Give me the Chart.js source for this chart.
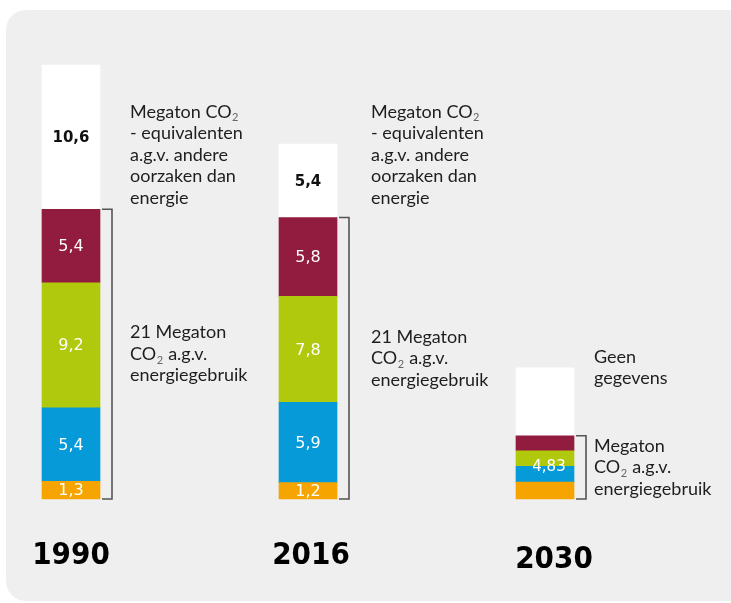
<!DOCTYPE html>
<html>
<head>
<meta charset="utf-8">
<script src="https://cdn.jsdelivr.net/npm/chart.js@4/dist/chart.umd.min.js"></script>
<style>
  body { margin: 0; background: #fff; }
  canvas { display: block; }
</style>
</head>
<body>
<canvas id="myChart" width="731" height="603"></canvas>
<script>
"use strict";

// Megaton CO2 per year, stacked bottom -> top
var years = ['1990', '2016', '2030'];
var orange = [1.3, 1.2, 1.25];
var blue = [5.4, 5.9, 1.15];
var green = [9.2, 7.8, 1.15];
var maroon = [5.4, 5.8, 1.1];
var otherCauses = [10.6, 5.4, 5.0];
// 2030 only has a total for energy use
var energyTotals = [null, null, 4.83];

var otherNotes = [
    ['Megaton CO₂', '- equivalenten', 'a.g.v. andere', 'oorzaken dan', 'energie'],
    ['Megaton CO₂', '- equivalenten', 'a.g.v. andere', 'oorzaken dan', 'energie'],
    ['Geen', 'gegevens']
];
var energyNotes = [
    ['21 Megaton', 'CO₂ a.g.v.', 'energiegebruik'],
    ['21 Megaton', 'CO₂ a.g.v.', 'energiegebruik'],
    ['Megaton', 'CO₂ a.g.v.', 'energiegebruik']
];

var noteGap = [18, 22, 8];
var yearShift = [[0, 0], [3, 0], [9, 4]];
var noteFont = '18px Lato';
var lineH = 21.5;

function fmt(v) {
    return String(v).replace('.', ',');
}

// draws a line of text, with ₂ as a small lowered 2
function drawNote(ctx, text, x, y) {
    var parts = text.split('₂');
    for (var p = 0; p < parts.length; p++) {
        ctx.font = noteFont;
        ctx.fillStyle = '#1e1e1e';
        ctx.fillText(parts[p], x, y);
        x += ctx.measureText(parts[p]).width;
        if (p < parts.length - 1) {
            ctx.font = '11px Lato';
            ctx.fillStyle = '#666';
            ctx.fillText('2', x + 0.5, y + 6);
            x += ctx.measureText('2').width + 1;
        }
    }
}

var panelPlugin = {
    id: 'panel',
    beforeDraw: function(chart) {
        var ctx = chart.ctx;
        ctx.save();
        ctx.fillStyle = '#efefef';
        ctx.beginPath();
        ctx.roundRect(6, 10, 760, 591, 20);
        ctx.fill();
        ctx.restore();
    }
};

var labelPlugin = {
    id: 'labels',
    afterDatasetsDraw: function(chart) {
        var ctx = chart.ctx;
        var area = chart.chartArea;
        var yScale = chart.scales.y;
        ctx.save();
        ctx.textBaseline = 'middle';

        // values inside the segments
        ctx.textAlign = 'center';
        chart.data.datasets.forEach(function(ds, d) {
            chart.getDatasetMeta(d).data.forEach(function(bar, i) {
                if (energyTotals[i] !== null) return;
                var top = Math.min(bar.y, bar.base);
                var h = Math.abs(bar.base - bar.y);
                ctx.save();
                ctx.beginPath();
                ctx.rect(bar.x - bar.width / 2, top, bar.width, h);
                ctx.clip();
                if (d === 4) {
                    ctx.font = 'bold 15px "DejaVu Sans"';
                    ctx.fillStyle = '#111';
                } else {
                    ctx.font = '16px "DejaVu Sans"';
                    ctx.fillStyle = '#fff';
                }
                ctx.fillText(fmt(ds.data[i]), bar.x, top + h / 2 + 1);
                ctx.restore();
            });
        });

        var bottoms = chart.getDatasetMeta(0).data;
        var tops = chart.getDatasetMeta(3).data;
        var whites = chart.getDatasetMeta(4).data;

        for (var i = 0; i < years.length; i++) {
            var bar = bottoms[i];
            var yTop = tops[i].y;
            var yBot = bar.base;
            var x0 = bar.x + bar.width / 2 + 2;
            var x1 = x0 + 10;

            if (energyTotals[i] !== null) {
                ctx.textAlign = 'center';
                ctx.font = '15px "DejaVu Sans"';
                ctx.fillStyle = '#fff';
                ctx.fillText(fmt(energyTotals[i]), bar.x + 4, (yTop + yBot) / 2);
            }

            // bracket round the energy part
            ctx.strokeStyle = '#555';
            ctx.lineWidth = 1.6;
            ctx.beginPath();
            ctx.moveTo(x0, yTop);
            ctx.lineTo(x1, yTop);
            ctx.lineTo(x1, yBot);
            ctx.lineTo(x0, yBot);
            ctx.stroke();

            ctx.textAlign = 'left';
            var tx = x1 + noteGap[i];
            var lines = energyNotes[i];
            var cy = (yTop + yBot) / 2 - (lines.length - 1) * lineH / 2;
            for (var k = 0; k < lines.length; k++) {
                drawNote(ctx, lines[k], tx, cy + k * lineH);
            }

            lines = otherNotes[i];
            var mid = Math.max(yScale.getPixelForValue(25.3), whites[i].y);
            cy = mid - (lines.length - 1) * lineH / 2;
            for (k = 0; k < lines.length; k++) {
                drawNote(ctx, lines[k], tx, cy + k * lineH);
            }

            // year under the bar
            ctx.textAlign = 'center';
            ctx.font = 'bold 31px "DejaVu Sans Condensed", "Liberation Sans"';
            ctx.fillStyle = '#000';
            ctx.fillText(years[i], bar.x + yearShift[i][0], area.bottom + 57 + yearShift[i][1]);
        }
        ctx.restore();
    }
};

function makeSet(label, data, color) {
    return {
        label: label,
        data: data,
        backgroundColor: color,
        borderWidth: 0,
        barThickness: 58,
        clip: false
    };
}

var myChart = new Chart(document.getElementById('myChart').getContext('2d'), {
    type: 'bar',
    data: {
        labels: years,
        datasets: [
            makeSet('oranje', orange, '#f6a400'),
            makeSet('blauw', blue, '#069ad8'),
            makeSet('groen', green, '#b1c90d'),
            makeSet('rood', maroon, '#921c40'),
            makeSet('andere oorzaken', otherCauses, '#ffffff')
        ]
    },
    options: {
        responsive: false,
        animation: false,
        layout: { padding: { left: 71, right: 186, top: 23, bottom: 104 } },
        scales: {
            x: { display: false, stacked: true, offset: false },
            y: { display: false, stacked: true, min: 0, max: 35 }
        },
        plugins: {
            legend: { display: false },
            tooltip: { enabled: false }
        }
    },
    plugins: [panelPlugin, labelPlugin]
});
</script>
</body>
</html>
